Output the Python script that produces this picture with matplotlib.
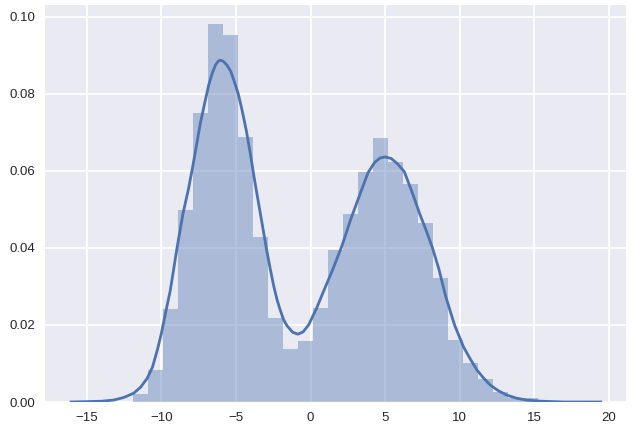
import numpy as np
import matplotlib
matplotlib.use('Agg')
import matplotlib.pyplot as plt

# Histograma (densidade) - bordas dos bins e alturas
bin_inicio = -11.92
bin_largura = 1.007
alturas = [0.0020, 0.0083, 0.0242, 0.0497, 0.0750, 0.0981, 0.0953, 0.0687,
           0.0429, 0.0218, 0.0137, 0.0158, 0.0245, 0.0394, 0.0487, 0.0598,
           0.0685, 0.0623, 0.0566, 0.0465, 0.0321, 0.0161, 0.0102, 0.0059,
           0.0025, 0.0010, 0.0010]

# Curva KDE
kde_x = [-16.05, -15.0, -14.0, -13.2, -12.5, -11.85, -11.4, -10.96, -10.6, -10.27,
         -10.0, -9.7, -9.4, -8.95, -8.55, -8.2, -7.94, -7.65, -7.39, -7.1,
         -6.83, -6.6, -6.38, -6.2, -6.05, -5.85, -5.6, -5.35, -5.14, -4.85,
         -4.59, -4.3, -4.04, -3.75, -3.45, -3.2, -2.97, -2.7, -2.48, -2.25,
         -2.03, -1.8, -1.58, -1.2, -0.85, -0.5, -0.13, 0.4, 0.9, 1.5,
         2.1, 2.7, 3.33, 3.85, 4.3, 4.65, 5.0, 5.4, 5.8, 6.28,
         6.8, 7.3, 7.75, 8.17, 8.6, 9.05, 9.65, 10.25, 10.7, 11.15,
         11.6, 12.04, 12.6, 13.15, 13.8, 14.49, 15.5, 17.0, 19.45]
kde_y = [0.0, 0.0001, 0.0002, 0.0005, 0.0012, 0.0023, 0.0038, 0.0061, 0.0090, 0.0135,
         0.0178, 0.0235, 0.0290, 0.0400, 0.0489, 0.0550, 0.0602, 0.0665, 0.0723, 0.0775,
         0.0822, 0.0852, 0.0874, 0.0884, 0.0887, 0.0884, 0.0874, 0.0858, 0.0835, 0.0800,
         0.0757, 0.0703, 0.0645, 0.0575, 0.0508, 0.0452, 0.0400, 0.0345, 0.0303, 0.0266,
         0.0238, 0.0213, 0.0198, 0.0181, 0.0176, 0.0182, 0.0200, 0.0243, 0.0290, 0.0345,
         0.0405, 0.0475, 0.0541, 0.0595, 0.0622, 0.0633, 0.0636, 0.0632, 0.0619, 0.0598,
         0.0545, 0.0490, 0.0445, 0.0400, 0.0345, 0.0275, 0.0200, 0.0143, 0.0112, 0.0083,
         0.0062, 0.0044, 0.0029, 0.0018, 0.0010, 0.0005, 0.0002, 0.0, 0.0]

azul = '#4C72B0'

plt.rcParams['font.family'] = ['Liberation Sans', 'DejaVu Sans']

fig = plt.figure(figsize=(6.33, 4.25), dpi=100)
ax = fig.add_axes([0.0711, 0.0541, 0.918, 0.934])
ax.set_facecolor('#EAEAF2')

bordas = bin_inicio + bin_largura * np.arange(len(alturas))
ax.bar(bordas, alturas, width=bin_largura, align='edge', color=azul, alpha=0.4,
       linewidth=0, zorder=2)
ax.plot(kde_x, kde_y, color=azul, linewidth=2, zorder=3, solid_joinstyle='round')

ax.set_xlim(-17.8, 21.15)
ax.set_ylim(0, 0.103)
ax.set_xticks([-15, -10, -5, 0, 5, 10, 15, 20])
ax.set_yticks([0.0, 0.02, 0.04, 0.06, 0.08, 0.10])
ax.set_yticklabels(['0.00', '0.02', '0.04', '0.06', '0.08', '0.10'])

ax.grid(True, color='white', linewidth=1.3, zorder=0)
ax.set_axisbelow(True)
for s in ax.spines.values():
    s.set_visible(False)
ax.tick_params(length=0, labelsize=9.5, labelcolor='#262626', pad=7)

fig.savefig('out.png', dpi=100)
